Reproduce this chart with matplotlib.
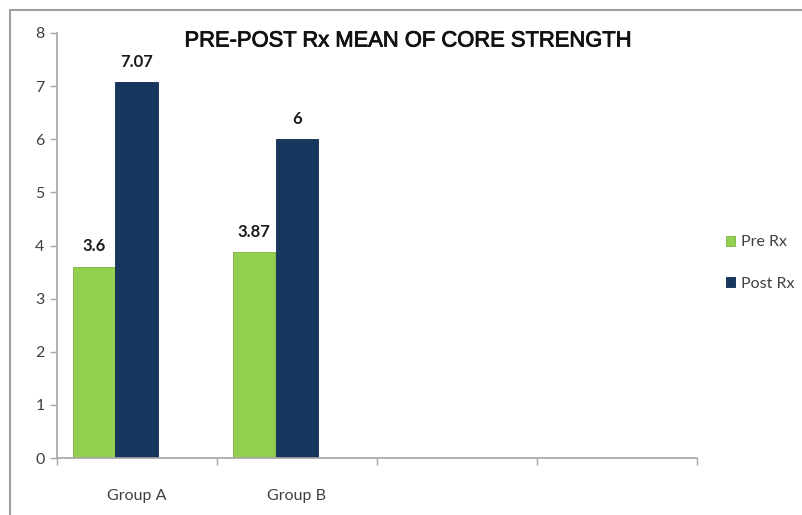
import matplotlib
matplotlib.use("Agg")
import matplotlib.pyplot as plt
from matplotlib.patches import Rectangle, Patch
import matplotlib.patheffects as pe
import numpy as np

categories = ["Group A", "Group B", "", ""]
pre_rx = [3.6, 3.87]
post_rx = [7.07, 6]
series_names = ["Pre Rx", "Post Rx"]
title = "PRE-POST Rx MEAN OF CORE STRENGTH"
yticks = [0, 1, 2, 3, 4, 5, 6, 7, 8]

green = "#92D050"
navy = "#17375E"
axis_grey = "#A6A6A6"
text_grey = "#404040"

fig = plt.figure(figsize=(8.03, 5.15), dpi=100)
ax = fig.add_axes([57/803, 1-458/515, 640/803, 425/515])

w = 43/160
idx = np.arange(len(pre_rx))
b1 = ax.bar(idx + 0.5 - w/2, pre_rx, width=w, align="center", color=green, edgecolor="#7FB040", linewidth=0.6)
b2 = ax.bar(idx + 0.5 + w/2, post_rx, width=w, align="center", color=navy, edgecolor="#10294A", linewidth=0.6)
for r in list(b1) + list(b2):
    r.set_x(r.get_x() - w/2)

for bars, vals in ((b1, pre_rx), (b2, post_rx)):
    for r, v in zip(bars, vals):
        ax.annotate(f"{v:g}", (r.get_x() + r.get_width()/2, v), xytext=(0, 9),
                    textcoords="offset points", ha="center", va="bottom",
                    fontsize=12, fontweight="bold", family="Lato", color="#1a1a1a")

ax.set_xlim(0, len(categories))
ax.set_ylim(0, 8)
ax.set_yticks(yticks)
ax.set_yticklabels([str(t) for t in yticks], family="Lato", fontsize=11.5, color=text_grey)
ax.set_xticks(np.arange(len(categories)) + 0.5)
ax.set_xticklabels(categories, family="Lato", fontsize=11.5, color=text_grey)
ax.set_xticks(np.arange(len(categories) + 1), minor=True)
ax.tick_params(axis="x", which="major", length=0, pad=22)
ax.tick_params(axis="x", which="minor", length=5, color=axis_grey, width=1)
ax.tick_params(axis="y", length=5, color=axis_grey, width=1, pad=4)

for s in ("top", "right"):
    ax.spines[s].set_visible(False)
for s in ("left", "bottom"):
    ax.spines[s].set_color(axis_grey)
    ax.spines[s].set_linewidth(1.2)

fig.text(408/803, 1-41/515, title, ha="center", va="center", fontsize=15.8,
         family="Liberation Sans", color="#111111",
         path_effects=[pe.withStroke(linewidth=0.6, foreground="#111111")])

handles = [Patch(facecolor=green, edgecolor="#7FB040", linewidth=0.6),
           Patch(facecolor=navy, edgecolor="#10294A", linewidth=0.6)]
leg = fig.legend(handles, series_names, loc="center left", bbox_to_anchor=(712/803, 1-263/515),
                 frameon=False, handlelength=0.55, handleheight=0.55, handletextpad=0.35,
                 labelspacing=1.7, prop={"family": "Lato", "size": 11.5})
for t in leg.get_texts():
    t.set_color(text_grey)

border = Rectangle((10/803, -0.2), 1.2, 0.2 + 1 - 10/515, transform=fig.transFigure,
                   fill=False, edgecolor="#A0A0A0", linewidth=1.5, clip_on=False)
fig.patches.append(border)

fig.savefig("out.png", dpi=100)
